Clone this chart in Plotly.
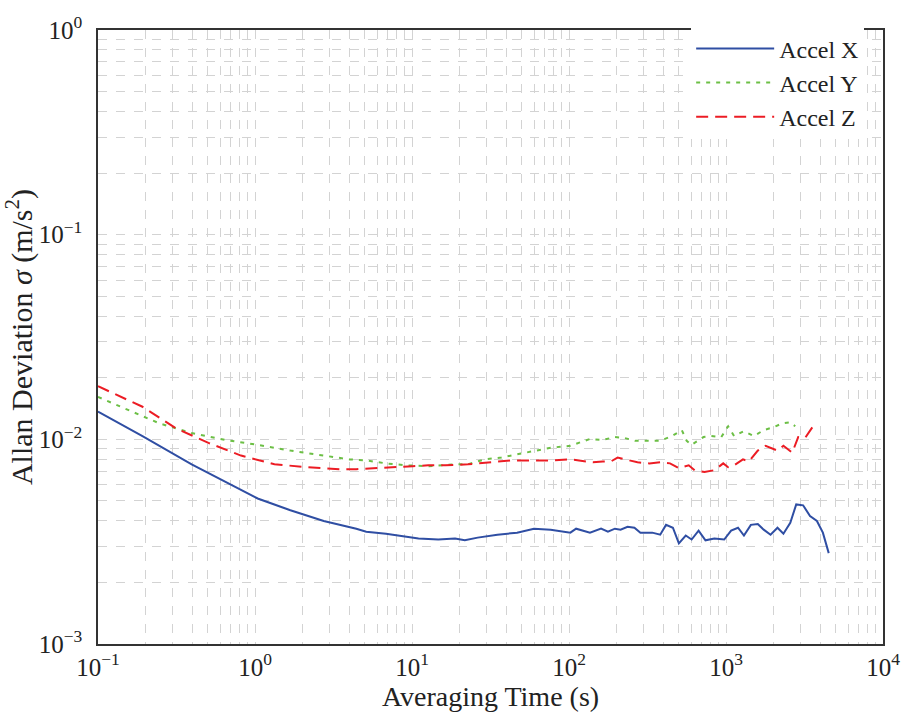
import plotly.graph_objects as go

# Accel X
tau_x = [0.1, 0.192, 0.395, 0.646, 1.04, 1.68, 2.74, 4.42, 5.11, 6.83, 9.12, 11.0, 14.7, 18.8, 21.7, 26.2,
         35.0, 46.7, 59.8, 76.4, 102, 111, 136, 160, 177, 196, 213, 236, 261, 285, 339, 381, 415, 459,
         501, 554, 604, 669, 740, 843, 974, 1078, 1193, 1301, 1440, 1594, 1738, 1922, 2128, 2321, 2567,
         2801, 3099, 3429, 3794, 4140, 4512]
sig_x = [0.01366, 0.01038, 0.00755, 0.00619, 0.00514, 0.00450, 0.00399, 0.00366, 0.00354, 0.00346, 0.00335,
         0.00328, 0.00324, 0.00328, 0.00321, 0.00331, 0.00342, 0.00350, 0.00366, 0.00362, 0.00350, 0.00366,
         0.00350, 0.00366, 0.00354, 0.00366, 0.00362, 0.00374, 0.00370, 0.00350, 0.00350, 0.00342, 0.00382,
         0.00370, 0.00310, 0.00339, 0.00324, 0.00358, 0.00321, 0.00328, 0.00324, 0.00358, 0.00370, 0.00339,
         0.00382, 0.00386, 0.00362, 0.00342, 0.00370, 0.00346, 0.00391, 0.00481, 0.00476, 0.00422, 0.00399,
         0.00350, 0.00278]

# Accel Y
tau_y = [0.1, 0.245, 0.395, 0.646, 1.04, 1.68, 2.74, 4.0, 5.11, 6.83, 9.12, 12.7, 18.8, 22.7, 29.0, 37.1,
         49.5, 62.4, 76.4, 102, 136, 164, 196, 226, 265, 315, 381, 453, 523, 562, 604, 719, 807, 933, 1032,
         1126, 1301, 1503, 1738, 2009, 2287, 2567, 2761]
sig_y = [0.01611, 0.01198, 0.01073, 0.00993, 0.00940, 0.00881, 0.00833, 0.00798, 0.00789, 0.00763, 0.00747,
         0.00739, 0.00755, 0.00755, 0.00798, 0.00815, 0.00852, 0.00881, 0.00910, 0.00930, 0.01004, 0.00993,
         0.01026, 0.01015, 0.00983, 0.00983, 0.00983, 0.01038, 0.01109, 0.00983, 0.00940, 0.01026, 0.01038,
         0.01026, 0.01158, 0.01038, 0.01097, 0.01038, 0.01109, 0.01146, 0.01198, 0.01211, 0.01158]

# Accel Z
tau_z = [0.1, 0.192, 0.313, 0.505, 0.814, 1.33, 2.15, 3.46, 4.42, 6.17, 10.1, 12.7, 16.3, 22.7, 30.3, 42.8,
         57.2, 79.8, 102, 142, 164, 185, 204, 243, 273, 325, 381, 440, 501, 579, 631, 730, 843, 960, 1032,
         1126, 1282, 1399, 1594, 1788, 2128, 2321, 2643, 2883, 3190, 3581]
sig_z = [0.01817, 0.01443, 0.01133, 0.00961, 0.00833, 0.00755, 0.00731, 0.00715, 0.00715, 0.00723, 0.00739,
         0.00747, 0.00747, 0.00755, 0.00772, 0.00789, 0.00789, 0.00789, 0.00798, 0.00772, 0.00780, 0.00780,
         0.00815, 0.00789, 0.00772, 0.00763, 0.00772, 0.00763, 0.00723, 0.00747, 0.00707, 0.00692, 0.00707,
         0.00763, 0.00731, 0.00747, 0.00798, 0.00780, 0.00881, 0.00930, 0.00881, 0.00930, 0.00861, 0.01026,
         0.01015, 0.01158]

x_tickvals = [0.1, 1, 10, 100, 1000, 10000]
x_ticktext = ["10<sup>−1</sup>", "10<sup>0</sup>", "10<sup>1</sup>", "10<sup>2</sup>", "10<sup>3</sup>", "10<sup>4</sup>"]
y_tickvals = [0.001, 0.01, 0.1, 1]
y_ticktext = ["10<sup>−3</sup>", "10<sup>−2</sup>", "10<sup>−1</sup>", "10<sup>0</sup>"]
x_minor = [m * 10.0 ** k for k in range(-1, 4) for m in range(2, 10)]
y_minor = [m * 10.0 ** k for k in range(-3, 0) for m in range(2, 10)]

FONT = "Liberation Serif"
TXT = "#222222"
fig = go.Figure()
fig.add_trace(go.Scatter(x=tau_x, y=sig_x, mode="lines", name="Accel X",
                         line=dict(color="#2f4ea3", width=2, dash="solid")))
fig.add_trace(go.Scatter(x=tau_y, y=sig_y, mode="lines", name="Accel Y",
                         line=dict(color="#6cbf45", width=2, dash="4px,6px")))
fig.add_trace(go.Scatter(x=tau_z, y=sig_z, mode="lines", name="Accel Z",
                         line=dict(color="#ec1c24", width=2, dash="12px,7px")))

GRIDC = "#d3d3d3"
fig.update_xaxes(type="log", range=[-1, 4], tickvals=x_tickvals, ticktext=x_ticktext,
                 showline=True, mirror=True, linecolor="#333333", linewidth=1.5, ticks="",
                 showgrid=True, gridcolor=GRIDC, griddash="dash", gridwidth=1, ticklabeloverflow="allow",
                 minor=dict(tickvals=x_minor, showgrid=True, gridcolor=GRIDC, griddash="dash", ticks=""),
                 title=dict(text="Averaging Time (s)", font=dict(size=28, family=FONT, color=TXT), standoff=4),
                 tickfont=dict(size=25, family=FONT, color=TXT), zeroline=False)
fig.update_yaxes(type="log", range=[-3, 0], tickvals=y_tickvals, ticktext=y_ticktext,
                 showline=True, mirror=True, linecolor="#333333", linewidth=1.5, ticks="",
                 showgrid=True, gridcolor=GRIDC, griddash="dash", gridwidth=1, ticklabeloverflow="allow",
                 ticklabelstandoff=9,
                 minor=dict(tickvals=y_minor, showgrid=True, gridcolor=GRIDC, griddash="dash", ticks=""),
                 title=dict(text="Allan Deviation <i>σ</i> (m/s<sup>2</sup>)", font=dict(size=30, family=FONT, color=TXT), standoff=6),
                 tickfont=dict(size=25, family=FONT, color=TXT), zeroline=False)

fig.update_layout(
    width=912, height=716,
    margin=dict(l=98, r=18, t=17, b=70),
    plot_bgcolor="white", paper_bgcolor="white",
    font=dict(family=FONT, size=25, color=TXT),
    legend=dict(x=0.976, y=1.006, xanchor="right", yanchor="top", bgcolor="white",
                borderwidth=0, font=dict(size=24, family=FONT, color=TXT), itemwidth=78),
)
fig.write_html("out.html")
